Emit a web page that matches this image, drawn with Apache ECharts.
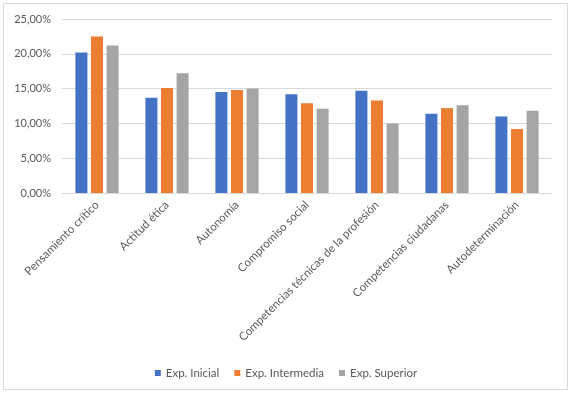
<!DOCTYPE html>
<html>
<head>
<meta charset="utf-8">
<script src="https://cdn.jsdelivr.net/npm/echarts@6/dist/echarts.min.js"></script>
<style>
  html, body { margin: 0; padding: 0; background: #fff; }
  #chart { width: 572px; height: 394px; }
</style>
</head>
<body>
<div id="chart"></div>
<script>
var categories = [
  'Pensamiento crítico',
  'Actitud ética',
  'Autonomía',
  'Compromiso social',
  'Competencias técnicas de la profesión',
  'Competencias ciudadanas',
  'Autodeterminación'
];
var seriesNames = ['Exp. Inicial', 'Exp. Intermedia', 'Exp. Superior'];
var inicial = [20.2, 13.7, 14.5, 14.2, 14.7, 11.4, 11.0];
var intermedia = [22.5, 15.1, 14.8, 12.9, 13.3, 12.2, 9.2];
var superior = [21.2, 17.2, 15.0, 12.1, 10.0, 12.6, 11.8];
var colors = ['#4472C4', '#ED7D31', '#A5A5A5'];

var chart = echarts.init(document.getElementById('chart'));
var font = 'Lato, "Open Sans", sans-serif';

function bar(name, data, color) {
  return {
    name: name,
    type: 'bar',
    data: data,
    barWidth: 12,
    barGap: '30%',
    itemStyle: { color: color }
  };
}

chart.setOption({
  animation: false,
  graphic: [{
    type: 'rect',
    shape: { x: 3.5, y: 3.5, width: 564, height: 386 },
    style: { fill: 'none', stroke: '#d9d9d9', lineWidth: 1 },
    silent: true
  }],
  legend: {
    top: 362,
    left: 'center',
    itemWidth: 6,
    itemHeight: 6,
    itemGap: 15,
    icon: 'rect',
    textStyle: { fontFamily: font, fontSize: 11.5, color: '#595959' },
    data: seriesNames
  },
  grid: { left: 62, right: 20, top: 19, bottom: 201 },
  xAxis: {
    type: 'category',
    data: categories,
    axisLine: { lineStyle: { color: '#d9d9d9' } },
    axisTick: { show: false },
    axisLabel: {
      rotate: 45,
      interval: 0,
      margin: 10,
      fontFamily: font,
      fontSize: 11.5,
      color: '#595959'
    }
  },
  yAxis: {
    type: 'value',
    min: 0,
    max: 25,
    interval: 5,
    axisLine: { show: false },
    axisTick: { show: false },
    splitLine: { lineStyle: { color: '#d9d9d9' } },
    axisLabel: {
      margin: 11,
      fontFamily: font,
      fontSize: 11,
      color: '#595959',
      formatter: function (v) {
        return v.toFixed(2).replace('.', ',') + '%';
      }
    }
  },
  series: [
    bar(seriesNames[0], inicial, colors[0]),
    bar(seriesNames[1], intermedia, colors[1]),
    bar(seriesNames[2], superior, colors[2])
  ]
});
</script>
</body>
</html>
